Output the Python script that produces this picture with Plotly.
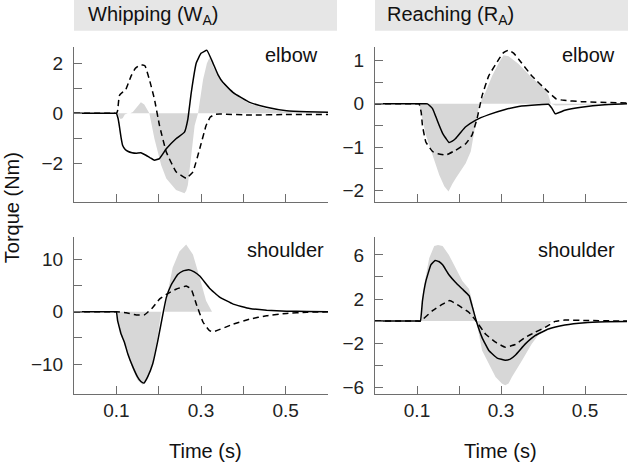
import plotly.graph_objects as go

W, H = 630, 466

# ---------------- data (time in s, torque in Nm) ----------------
# Whipping, elbow
wa_elbow_solid_t = [0, 0.09, 0.1, 0.104, 0.107, 0.111, 0.115, 0.121, 0.127, 0.137, 0.147, 0.158, 0.170, 0.180,
                    0.190, 0.202, 0.218, 0.241, 0.261, 0.269, 0.277, 0.289, 0.300, 0.314, 0.328, 0.340, 0.352,
                    0.376, 0.415, 0.455, 0.502, 0.55, 0.6]
wa_elbow_solid = [0, 0, 0, -0.2, -0.49, -0.95, -1.29, -1.45, -1.52, -1.58, -1.6, -1.58, -1.68, -1.78,
                  -1.88, -1.81, -1.42, -1.02, -0.75, -0.23, 0.83, 2.02, 2.4, 2.52, 2.02, 1.55, 1.23,
                  0.83, 0.44, 0.24, 0.10, 0.06, 0.04]
wa_elbow_dash_t = [0, 0.09, 0.1, 0.103, 0.107, 0.115, 0.121, 0.135, 0.145, 0.155, 0.162, 0.168, 0.178, 0.190,
                   0.202, 0.218, 0.241, 0.265, 0.281, 0.297, 0.312, 0.322, 0.332, 0.344, 0.42, 0.5, 0.6]
wa_elbow_dash = [0, 0, 0, 0.1, 0.7, 0.85, 0.9, 1.5, 1.8, 1.93, 1.93, 1.89, 1.36, 0.57,
                 -0.49, -1.55, -2.34, -2.6, -2.34, -1.42, -0.49, -0.15, -0.05, -0.03, -0.07, -0.05, -0.05]
wa_elbow_fill_t = [0.1, 0.105, 0.110, 0.115, 0.120, 0.127, 0.133, 0.139, 0.150, 0.158, 0.166, 0.172, 0.178,
                   0.190, 0.206, 0.218, 0.241, 0.261, 0.265, 0.269, 0.277, 0.285, 0.293, 0.305, 0.314, 0.320,
                   0.328, 0.352, 0.376, 0.415, 0.455, 0.502, 0.6]
wa_elbow_fill = [0, -0.1, -0.23, -0.2, -0.05, 0, 0, 0.05, 0.3, 0.44, 0.35, 0.15, 0,
                 -1.02, -2.08, -2.61, -3.07, -3.2, -3.1, -2.87, -1.68, -0.49, 0, 1.36, 2.0, 2.22,
                 1.89, 1.15, 0.78, 0.38, 0.18, 0.05, 0]

# Reaching, elbow
ra_elbow_solid_t = [0, 0.115, 0.125, 0.137, 0.145, 0.153, 0.161, 0.169, 0.176, 0.184, 0.192, 0.204, 0.216,
                    0.239, 0.271, 0.310, 0.342, 0.389, 0.413, 0.421, 0.429, 0.452, 0.491, 0.547, 0.6]
ra_elbow_solid = [0, 0, 0, -0.11, -0.3, -0.5, -0.68, -0.8, -0.89, -0.86, -0.8, -0.66, -0.53,
                  -0.38, -0.25, -0.13, -0.06, -0.02, -0.01, -0.1, -0.23, -0.15, -0.08, -0.02, 0]
ra_elbow_dash_t = [0, 0.097, 0.105, 0.110, 0.113, 0.121, 0.137, 0.150, 0.165, 0.172, 0.192, 0.216, 0.231,
                   0.243, 0.255, 0.271, 0.295, 0.306, 0.318, 0.330, 0.342, 0.373, 0.413, 0.432, 0.45, 0.491, 0.6]
ra_elbow_dash = [0, 0, 0, -0.2, -0.5, -0.88, -1.1, -1.15, -1.18, -1.17, -1.07, -0.92, -0.72,
                 -0.34, 0.19, 0.65, 1.03, 1.18, 1.24, 1.17, 1.03, 0.65, 0.27, 0.11, 0.08, 0.05, 0.02]
ra_elbow_fill_t = [0.105, 0.113, 0.121, 0.137, 0.153, 0.165, 0.175, 0.184, 0.192, 0.216, 0.228, 0.239, 0.249,
                   0.263, 0.279, 0.295, 0.306, 0.318, 0.342, 0.373, 0.405, 0.413, 0.419, 0.43, 0.47, 0.6]
ra_elbow_fill = [0, -0.35, -0.72, -1.18, -1.64, -1.9, -2.02, -1.85, -1.72, -1.37, -1.1, -0.5, 0,
                 0.27, 0.65, 0.95, 1.12, 1.1, 0.92, 0.61, 0.33, 0.2, 0, -0.04, -0.03, 0]

# Whipping, shoulder
wa_sh_solid_t = [0, 0.092, 0.1, 0.103, 0.107, 0.111, 0.119, 0.127, 0.139, 0.150, 0.158, 0.165, 0.174, 0.186,
                 0.198, 0.210, 0.218, 0.230, 0.245, 0.258, 0.271, 0.284, 0.297, 0.320, 0.344, 0.376, 0.415,
                 0.455, 0.502, 0.55, 0.6]
wa_sh_solid = [0, 0, 0, -1.7, -2.97, -4.2, -5.8, -8.0, -10.5, -12.4, -13.3, -13.6, -12.4, -9.9,
               -5.5, -0.45, 2.7, 5.2, 7.1, 7.8, 8.0, 7.6, 6.8, 4.5, 2.8, 1.45, 0.63,
               0.3, 0.12, 0.05, 0]
wa_sh_dash_t = [0, 0.09, 0.1, 0.123, 0.147, 0.166, 0.186, 0.202, 0.218, 0.241, 0.265, 0.277, 0.289, 0.305,
                0.320, 0.330, 0.376, 0.415, 0.455, 0.502, 0.55, 0.6]
wa_sh_dash = [0, 0, 0, -0.2, -0.6, -0.6, 0.8, 2.4, 3.3, 4.3, 4.9, 4.3, 1.45, -2.0,
              -3.6, -3.8, -2.35, -1.4, -0.76, -0.32, -0.1, 0]
wa_sh_fill_t = [0.1, 0.103, 0.107, 0.111, 0.119, 0.127, 0.139, 0.150, 0.162, 0.174, 0.186, 0.198, 0.206,
                0.214, 0.222, 0.233, 0.249, 0.265, 0.281, 0.297, 0.312, 0.326, 0.6]
wa_sh_fill = [0, -1.8, -3.2, -4.4, -6.0, -8.3, -11.0, -13.0, -13.9, -12.8, -9.6, -4.5, 0,
              0, 4.0, 8.4, 11.5, 12.8, 10.9, 6.5, 2.1, 0, 0]

# Reaching, shoulder
ra_sh_solid_t = [0, 0.1, 0.108, 0.113, 0.121, 0.133, 0.143, 0.152, 0.161, 0.176, 0.192, 0.208, 0.224, 0.231,
                 0.241, 0.255, 0.271, 0.291, 0.310, 0.322, 0.334, 0.358, 0.381, 0.413, 0.452, 0.5, 0.55, 0.6]
ra_sh_solid = [0, 0, 0, 1.84, 3.6, 5.1, 5.5, 5.4, 5.1, 4.2, 3.5, 2.9, 2.3, 1.4,
               0.03, -1.5, -2.67, -3.36, -3.55, -3.45, -3.1, -2.07, -1.32, -0.72, -0.36, -0.15, -0.07, -0.03]
ra_sh_dash_t = [0, 0.1, 0.108, 0.115, 0.137, 0.161, 0.178, 0.2, 0.224, 0.239, 0.263, 0.287, 0.310, 0.334,
                0.358, 0.381, 0.405, 0.429, 0.452, 0.5, 0.6]
ra_sh_dash = [0, 0, 0, 0.2, 0.94, 1.53, 1.87, 1.39, 0.78, 0.1, -1.17, -1.92, -2.37, -2.13,
              -1.47, -1.02, -0.57, -0.03, 0.09, 0.05, 0]
ra_sh_fill_t = [0.108, 0.117, 0.129, 0.141, 0.150, 0.161, 0.176, 0.192, 0.208, 0.224, 0.231, 0.241, 0.255,
                0.271, 0.287, 0.302, 0.310, 0.318, 0.326, 0.350, 0.373, 0.397, 0.413, 0.42, 0.6]
ra_sh_fill = [0, 3.3, 5.7, 6.8, 6.9, 6.8, 6.0, 4.84, 3.64, 2.9, 1.84, 0, -2.67,
              -3.87, -5.07, -5.67, -5.82, -5.67, -5.07, -3.57, -2.07, -0.86, -0.27, 0, 0]

x_ticks = [0.1, 0.2, 0.3, 0.4, 0.5]
x_ticktext = ["0.1", "", "0.3", "", "0.5"]

panels = [
    ("x", "y", (wa_elbow_solid_t, wa_elbow_solid), (wa_elbow_dash_t, wa_elbow_dash),
     (wa_elbow_fill_t, wa_elbow_fill), [-3.56, 2.67], [-2, -1, 0, 1, 2], ["−2", "", "0", "", "2"]),
    ("x2", "y2", (ra_elbow_solid_t, ra_elbow_solid), (ra_elbow_dash_t, ra_elbow_dash),
     (ra_elbow_fill_t, ra_elbow_fill), [-2.27, 1.32], [-2, -1.5, -1, -0.5, 0, 0.5, 1],
     ["−2", "", "−1", "", "0", "", "1"]),
    ("x3", "y3", (wa_sh_solid_t, wa_sh_solid), (wa_sh_dash_t, wa_sh_dash),
     (wa_sh_fill_t, wa_sh_fill), [-15.6, 14.26], [-10, -5, 0, 5, 10], ["−10", "", "0", "", "10"]),
    ("x4", "y4", (ra_sh_solid_t, ra_sh_solid), (ra_sh_dash_t, ra_sh_dash),
     (ra_sh_fill_t, ra_sh_fill), [-6.58, 7.63], [-6, -4, -2, 0, 2, 4, 6],
     ["−6", "", "−2", "", "2", "", "6"]),
]

# pixel boxes of plot areas (left, right, top, bottom)
boxes = [(74, 328, 47, 204), (375, 627, 47, 204), (74, 328, 239, 397), (375, 627, 239, 397)]

FONT = "Liberation Sans, Arial, sans-serif"
AX_COL = "#6e6e6e"
FILL_COL = "#d7d7d7"
TICK_SIZE = 19
LABEL_SIZE = 20

fig = go.Figure()
layout = {}
for i, (xa, ya, solid, dash, fill, yr, ytv, ytt) in enumerate(panels):
    l, r, t, b = boxes[i]
    fig.add_trace(go.Scatter(x=fill[0], y=fill[1], xaxis=xa, yaxis=ya, mode="lines",
                             line=dict(width=0, color=FILL_COL), fill="tozeroy", fillcolor=FILL_COL,
                             hoverinfo="skip", showlegend=False))
    fig.add_trace(go.Scatter(x=dash[0], y=dash[1], xaxis=xa, yaxis=ya, mode="lines",
                             line=dict(width=1.5, color="black", dash="6px,4px", shape="spline", smoothing=0.3),
                             showlegend=False))
    fig.add_trace(go.Scatter(x=solid[0], y=solid[1], xaxis=xa, yaxis=ya, mode="lines",
                             line=dict(width=1.5, color="black", shape="spline", smoothing=0.3),
                             showlegend=False))
    xkey = "xaxis" + xa[1:]
    ykey = "yaxis" + ya[1:]
    bottom_row = i >= 2
    layout[xkey] = dict(domain=[l / W, r / W], range=[0, 0.6], anchor=ya, tickmode="array",
                        tickvals=x_ticks, ticktext=x_ticktext, showticklabels=bottom_row,
                        ticks="inside", ticklen=8, tickcolor=AX_COL, showline=True, linecolor=AX_COL,
                        linewidth=1, showgrid=False, zeroline=False,
                        tickfont=dict(size=TICK_SIZE, color="#222", family=FONT), ticklabelstandoff=0)
    layout[ykey] = dict(domain=[1 - b / H, 1 - t / H], range=yr, anchor=xa, tickmode="array",
                        tickvals=ytv, ticktext=ytt, ticks="inside", ticklen=8, tickcolor=AX_COL,
                        showline=True, linecolor=AX_COL, linewidth=1, showgrid=False, zeroline=False,
                        tickfont=dict(size=TICK_SIZE, color="#222", family=FONT), ticklabelstandoff=6)

fig.update_layout(**layout)

annotations = []
shapes = []


def px(x):
    return x / W


def py(y):
    return 1 - y / H


# title bars
for (x0, x1, txt, tx) in [(74, 337, "Whipping (W<sub>A</sub>)", 86), (375, 628, "Reaching (R<sub>A</sub>)", 385)]:
    shapes.append(dict(type="rect", xref="paper", yref="paper", x0=px(x0), x1=px(x1), y0=py(31), y1=py(0),
                       fillcolor="#e6e6e6", line=dict(width=0), layer="below"))
    annotations.append(dict(text=txt, xref="paper", yref="paper", x=px(tx), y=py(16), xanchor="left",
                            yanchor="middle", showarrow=False,
                            font=dict(size=LABEL_SIZE, color="#111", family=FONT)))

# panel labels
for (txt, xr, yc) in [("elbow", 320, 55), ("elbow", 617, 55), ("shoulder", 326, 252), ("shoulder", 617, 252)]:
    annotations.append(dict(text=txt, xref="paper", yref="paper", x=px(xr), y=py(yc), xanchor="right",
                            yanchor="middle", showarrow=False,
                            font=dict(size=LABEL_SIZE, color="#111", family=FONT)))

# axis titles
for xc in [(74 + 328) / 2 + 4, (375 + 627) / 2]:
    annotations.append(dict(text="Time (s)", xref="paper", yref="paper", x=px(xc), y=py(455),
                            xanchor="center", yanchor="middle", showarrow=False,
                            font=dict(size=LABEL_SIZE, color="#111", family=FONT)))
annotations.append(dict(text="Torque (Nm)", xref="paper", yref="paper", x=px(12), y=py(210), textangle=-90,
                        xanchor="center", yanchor="middle", showarrow=False,
                        font=dict(size=LABEL_SIZE, color="#111", family=FONT)))

fig.update_layout(width=W, height=H, margin=dict(l=0, r=0, t=0, b=0), paper_bgcolor="white",
                  plot_bgcolor="white", annotations=annotations, shapes=shapes, showlegend=False)

fig.write_html("out.html", config={"displayModeBar": False},
               post_script="document.body.style.margin='0';document.body.style.padding='0';"
                           "document.body.style.overflow='hidden';")
